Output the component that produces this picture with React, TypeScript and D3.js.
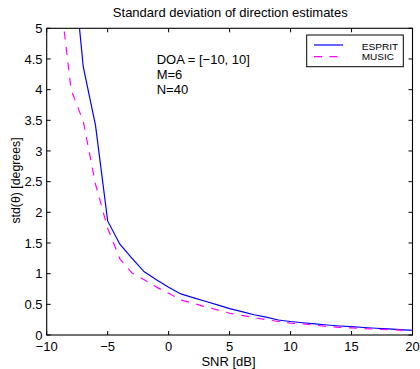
import React from "react";
import * as d3 from "d3";

const snr = [-9, -8, -7, -6, -5, -4, -3, -2, -1, 0, 1, 2, 3, 4, 5, 6, 7, 8, 9, 10, 11, 12, 13, 14, 15, 16, 17, 18, 19, 20];
const esprit = [8.5, 6.4, 4.37, 3.42, 1.86, 1.48, 1.25, 1.03, 0.9, 0.78, 0.67, 0.61, 0.55, 0.49, 0.43, 0.38, 0.33, 0.29, 0.245, 0.22, 0.2, 0.18, 0.163, 0.147, 0.135, 0.122, 0.11, 0.1, 0.088, 0.075];
const music = [5.7, 4.0, 3.48, 2.46, 1.74, 1.24, 1.01, 0.9, 0.78, 0.68, 0.57, 0.52, 0.46, 0.41, 0.355, 0.32, 0.285, 0.25, 0.22, 0.195, 0.18, 0.16, 0.14, 0.125, 0.115, 0.105, 0.095, 0.088, 0.08, 0.073];
const xTicks = [-10, -5, 0, 5, 10, 15, 20];
const yTicks = [0, 0.5, 1, 1.5, 2, 2.5, 3, 3.5, 4, 4.5, 5];
const seriesNames = ["ESPRIT", "MUSIC"];
const annotation = ["DOA = [\u221210, 10]", "M=6", "N=40"];
const title = "Standard deviation of direction estimates";
const xLabel = "SNR [dB]";
const yLabel = "std(\u03b8) [degrees]";

const W = 420, H = 369;
const L = 46.7, R = 412.5, T = 28.3, B = 335;
const font = "'Liberation Sans', Arial, Helvetica, sans-serif";

export default function App() {
  const x = d3.scaleLinear().domain([-10, 20]).range([L, R]);
  const y = d3.scaleLinear().domain([0, 5]).range([B, T]);
  const line = d3.line<number>().x((_, i) => x(snr[i])).y((d) => y(d));
  const fmt = (v: number) => (v < 0 ? "\u2212" + Math.abs(v) : String(v));
  const tk = 4;
  const legendWidths = [36.6, 32.3];
  return (
    <svg width={W} height={H} style={{ position: "absolute", left: 0, top: 0, background: "#fff" }} fontFamily={font}>
      <defs>
        <clipPath id="clip">
          <rect x={L} y={T} width={R - L} height={B - T} />
        </clipPath>
      </defs>
      <rect x={0} y={0} width={W} height={H} fill="#fff" />
      <g clipPath="url(#clip)">
        <path d={line(esprit) || ""} fill="none" stroke="#0000ff" strokeWidth={1.2} />
        <path d={line(music) || ""} fill="none" stroke="#ff00ff" strokeWidth={1.2} strokeDasharray="8,7.5" />
      </g>
      <rect x={L} y={T} width={R - L} height={B - T} fill="none" stroke="#000" strokeWidth={1.1} />
      {xTicks.map((t) => (
        <g key={"x" + t}>
          <line x1={x(t)} x2={x(t)} y1={B} y2={B - tk} stroke="#000" />
          <line x1={x(t)} x2={x(t)} y1={T} y2={T + tk} stroke="#000" />
          <text x={x(t)} y={351} fontSize={13} textAnchor="middle" fill="#000">{fmt(t)}</text>
        </g>
      ))}
      {yTicks.map((t) => (
        <g key={"y" + t}>
          <line x1={L} x2={L + tk} y1={y(t)} y2={y(t)} stroke="#000" />
          <line x1={R} x2={R - tk} y1={y(t)} y2={y(t)} stroke="#000" />
          <text x={42.5} y={y(t) + 4.6} fontSize={13} textAnchor="end" fill="#000">{String(t)}</text>
        </g>
      ))}
      <text x={230.3} y={17.3} fontSize={13} textAnchor="middle" fill="#000">{title}</text>
      <text x={228.5} y={365.5} fontSize={13} textAnchor="middle" fill="#000">{xLabel}</text>
      <text transform={`translate(20,180.5) rotate(-90)`} fontSize={12.3} textAnchor="middle" fill="#000">{yLabel}</text>
      {annotation.map((s, i) => (
        <text key={s} x={156.7} y={63.5 + i * 15} fontSize={13} fill="#000">{s}</text>
      ))}
      <g>
        <rect x={306.7} y={35} width={96.6} height={31.7} fill="#fff" stroke="#000" strokeWidth={1} />
        <line x1={314} x2={343} y1={45} y2={45} stroke="#0000ff" strokeWidth={1.2} />
        <line x1={314} x2={343} y1={56.7} y2={56.7} stroke="#ff00ff" strokeWidth={1.2} strokeDasharray="8,7.5" />
        {seriesNames.map((s, i) => (
          <text key={s} x={361.7} y={49.5 + i * 10.6} fontSize={9.5} textLength={legendWidths[i]} lengthAdjust="spacingAndGlyphs" fill="#000">{s}</text>
        ))}
      </g>
    </svg>
  );
}
